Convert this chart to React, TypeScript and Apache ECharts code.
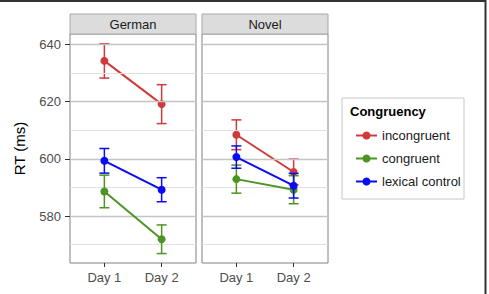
import React, { useEffect, useRef } from "react";
import * as echarts from "echarts";

// Session labels on the x axis (positions 1 and 2)
const days = ["Day 1", "Day 2"];
const panels = ["German", "Novel"];
const conditions = ["incongruent", "congruent", "lexical control"];
const colors = ["#d03a3a", "#4c9424", "#0b0bf2"];

// Mean RT (ms) per condition, [Day 1, Day 2]
const germanMeans = [
  [634.2, 619.1],
  [588.6, 571.9],
  [599.3, 589.2],
];
const germanErr = [
  [6.0, 6.8],
  [5.7, 5.0],
  [4.3, 4.2],
];
const novelMeans = [
  [608.4, 595.4],
  [592.9, 589.2],
  [600.6, 590.6],
];
const novelErr = [
  [5.2, 4.5],
  [4.9, 4.9],
  [3.9, 4.3],
];

const majorTicks = [580, 600, 620, 640];
const minorTicks = [570, 590, 610, 630];

const Y_MIN = 563.6;
const Y_MAX = 643.6;

const FONT = "Liberation Sans, Arial, Helvetica, sans-serif";

export default function App() {
  const ref = useRef<HTMLDivElement>(null);

  useEffect(() => {
    if (!ref.current) return;
    const chart = echarts.init(ref.current, null, { renderer: "svg" });

    const panelLefts = [70, 202];
    const panelWidth = 126;
    const panelTop = 34;
    const panelHeight = 229;

    const grids = panelLefts.map((left) => ({
      left,
      top: panelTop,
      width: panelWidth,
      height: panelHeight,
      show: true,
      borderColor: "#808080",
      borderWidth: 1,
      backgroundColor: "#ffffff",
    }));

    const xAxes = panelLefts.map((_, i) => ({
      type: "value",
      gridIndex: i,
      min: 0.4,
      max: 2.6,
      axisLine: { show: false },
      splitLine: { show: false },
      axisTick: {
        show: true,
        length: 4,
        lineStyle: { color: "#333333", width: 1 },
        customValues: [1, 2],
      },
      axisLabel: {
        show: true,
        margin: 8,
        color: "#4d4d4d",
        fontSize: 13,
        fontFamily: FONT,
        customValues: [1, 2],
        formatter: (v: number) => days[Math.round(v) - 1] ?? "",
      },
    }));

    const yAxes = panelLefts.map((_, i) => ({
      type: "value",
      gridIndex: i,
      min: Y_MIN,
      max: Y_MAX,
      name: i === 0 ? "RT (ms)" : "",
      nameLocation: "middle",
      nameRotate: 90,
      nameGap: 43,
      nameTextStyle: { color: "#000000", fontSize: 15, fontFamily: FONT },
      axisLine: { show: false },
      splitLine: { show: false },
      axisTick: {
        show: i === 0,
        length: 5,
        lineStyle: { color: "#333333", width: 1 },
        customValues: majorTicks,
      },
      axisLabel: {
        show: i === 0,
        margin: 9,
        color: "#4d4d4d",
        fontSize: 13,
        fontFamily: FONT,
        customValues: majorTicks,
      },
    }));

    const series: any[] = [];

    panels.forEach((_, p) => {
      // grid lines of each panel
      series.push({
        type: "line",
        xAxisIndex: p,
        yAxisIndex: p,
        data: [],
        silent: true,
        z: 1,
        markLine: {
          silent: true,
          symbol: "none",
          label: { show: false },
          animation: false,
          data: [
            ...minorTicks.map((v) => ({ yAxis: v, lineStyle: { color: "#e0e0e0", width: 1, type: "solid" } })),
            ...majorTicks.map((v) => ({ yAxis: v, lineStyle: { color: "#c4c4c4", width: 1.3, type: "solid" } })),
          ],
        },
      });
    });

    panels.forEach((_, p) => {
      const means = p === 0 ? germanMeans : novelMeans;
      const errs = p === 0 ? germanErr : novelErr;
      conditions.forEach((name, c) => {
        const errData = means[c].map((m, d) => [d + 1, m - errs[c][d], m + errs[c][d]]);
        series.push({
          type: "custom",
          name: `${name} error`,
          xAxisIndex: p,
          yAxisIndex: p,
          z: 3 + c * 2,
          data: errData,
          renderItem: (_params: any, api: any) => {
            const x = api.value(0);
            const lo = api.coord([x, api.value(1)]);
            const hi = api.coord([x, api.value(2)]);
            const half = 5;
            const style = { stroke: colors[c], lineWidth: 1.5 };
            return {
              type: "group",
              children: [
                { type: "line", shape: { x1: lo[0], y1: lo[1], x2: hi[0], y2: hi[1] }, style },
                { type: "line", shape: { x1: lo[0] - half, y1: lo[1], x2: lo[0] + half, y2: lo[1] }, style },
                { type: "line", shape: { x1: hi[0] - half, y1: hi[1], x2: hi[0] + half, y2: hi[1] }, style },
              ],
            };
          },
        });
        series.push({
          type: "line",
          name,
          xAxisIndex: p,
          yAxisIndex: p,
          z: 4 + c * 2,
          data: means[c].map((m, d) => [d + 1, m]),
          symbol: "circle",
          symbolSize: 8,
          showSymbol: true,
          itemStyle: { color: colors[c] },
          lineStyle: { color: colors[c], width: 2 },
        });
      });
    });

    const graphic: any[] = [];
    // facet strips
    panelLefts.forEach((left, p) => {
      graphic.push({
        type: "rect",
        shape: { x: left, y: 14, width: panelWidth, height: 20 },
        style: { fill: "#dcdcdc", stroke: "#a8a8a8", lineWidth: 1 },
        z: 10,
      });
      graphic.push({
        type: "text",
        x: left + panelWidth / 2,
        y: 24,
        style: {
          text: panels[p],
          fill: "#1a1a1a",
          font: `13px ${FONT}`,
          textAlign: "center",
          textVerticalAlign: "middle",
        },
        z: 11,
      });
    });
    // legend frame and title
    graphic.push({
      type: "rect",
      shape: { x: 342, y: 98, width: 122, height: 101 },
      style: { fill: "#ffffff", stroke: "#c8c8c8", lineWidth: 1 },
      z: 0,
    });
    graphic.push({
      type: "text",
      x: 350,
      y: 111,
      style: {
        text: "Congruency",
        fill: "#000000",
        font: `bold 13px ${FONT}`,
        textVerticalAlign: "middle",
      },
      z: 11,
    });
    // outer frame edges
    graphic.push({
      type: "line",
      shape: { x1: 0, y1: 1, x2: 486, y2: 1 },
      style: { stroke: "#333333", lineWidth: 2 },
      z: 20,
    });
    graphic.push({
      type: "line",
      shape: { x1: 485.5, y1: 0, x2: 485.5, y2: 294 },
      style: { stroke: "#333333", lineWidth: 2 },
      z: 20,
    });

    chart.setOption({
      animation: false,
      backgroundColor: "#ffffff",
      grid: grids,
      xAxis: xAxes,
      yAxis: yAxes,
      series,
      graphic,
      legend: {
        orient: "vertical",
        left: 350,
        top: 124,
        itemWidth: 21,
        itemHeight: 10,
        itemGap: 10,
        data: conditions,
        textStyle: { color: "#1a1a1a", fontSize: 13, fontFamily: FONT },
        selectedMode: false,
      },
    });

    return () => chart.dispose();
  }, []);

  return (
    <div
      ref={ref}
      style={{ position: "fixed", left: 0, top: 0, width: 489, height: 294 }}
    />
  );
}
